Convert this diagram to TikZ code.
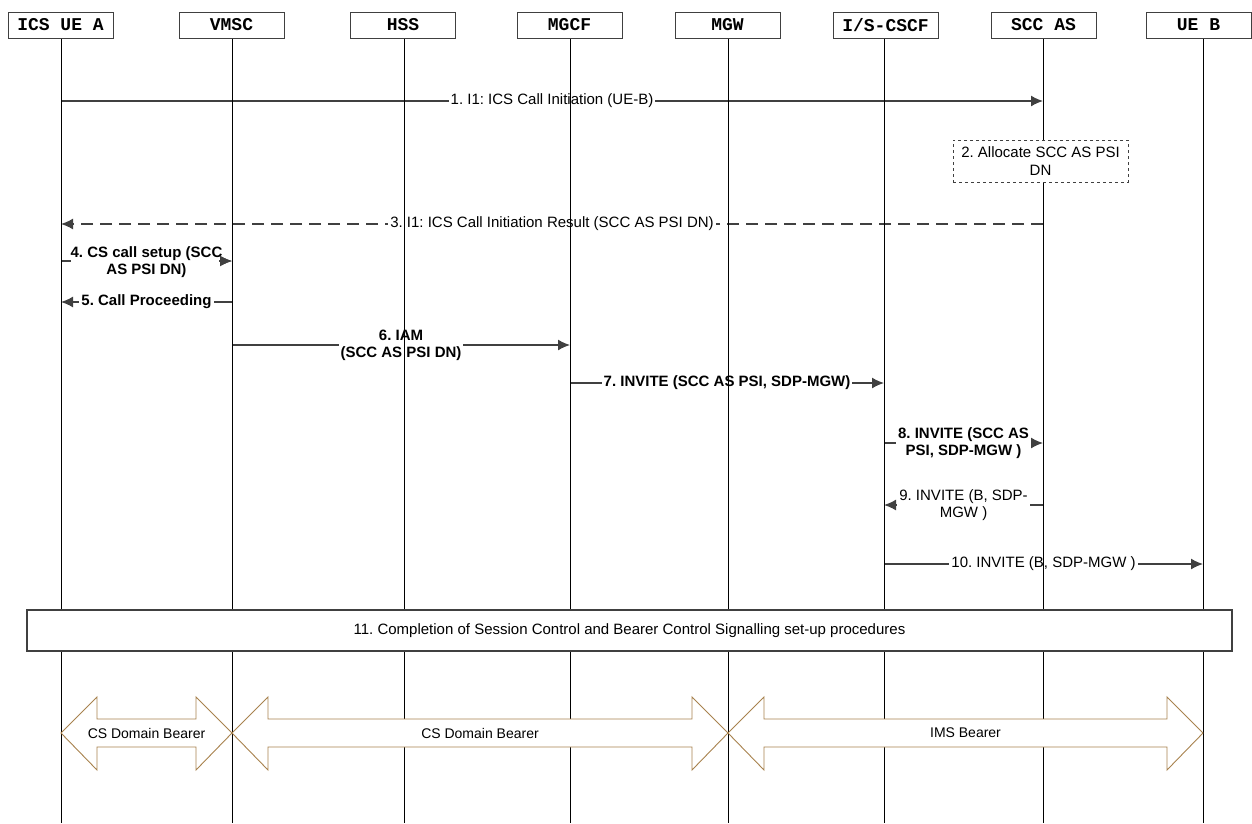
\documentclass[tikz,border=0pt]{standalone}
\usepackage{fontspec}
\setmainfont{Liberation Sans}
\setmonofont{Liberation Mono}
\usetikzlibrary{arrows.meta,calc}
\definecolor{msggray}{HTML}{404040}
\definecolor{bearerbrown}{HTML}{A8824E}

\begin{document}
\frenchspacing
\begin{tikzpicture}[x=1pt,y=-1pt,
  entity/.style={draw=msggray,fill=white,minimum width=105pt,minimum height=26pt,
    inner sep=0pt,font=\ttfamily\bfseries\fontsize{18}{18}\selectfont},
  msg/.style={-{Latex[length=12pt,width=11pt]},draw=msggray,line width=1.4pt},
  lbl/.style={fill=white,inner sep=2pt,align=center,font=\fontsize{15}{17}\selectfont},
  lblb/.style={lbl,font=\bfseries\fontsize{15}{17}\selectfont},
  bearer/.style={draw=bearerbrown,fill=white,line width=0.9pt}]
  \useasboundingbox (0,0) rectangle (1252,823);
  % message rows
  \foreach \r/\y in {1/101,3/224,4/261,5/302,6/345,7/383,8/443,9/505,10/564,b/733,end/823}
    \coordinate (r\r) at (0,\y);
  % lifeline heads
  \foreach \name/\x in {uea/61,vmsc/232,hss/404,mgcf/570,mgw/728,cscf/884,scc/1043,ueb/1203}
    \coordinate (\name) at (\x,38);

  \draw[msg] (uea |- r1) -- (scc |- r1)
    node[lbl,midway] {1. I1: ICS Call Initiation (UE-B)};
  \draw[msg,dash pattern=on 12pt off 7pt] (scc |- r3) -- (uea |- r3)
    node[lbl,midway] {3. I1: ICS Call Initiation Result (SCC AS PSI DN)};
  \draw[msg] (uea |- r4) -- (vmsc |- r4)
    node[lblb,midway,inner sep=0pt,yshift=-1pt] {4. CS call setup (SCC\\AS PSI DN)};
  \draw[msg] ([xshift=-13pt]vmsc |- r4) -- (vmsc |- r4);
  \draw[msg] (vmsc |- r5) -- (uea |- r5)
    node[lblb,midway] {5. Call Proceeding};
  \draw[msg] (vmsc |- r6) -- (mgcf |- r6)
    node[lblb,midway] {6. IAM\\(SCC AS PSI DN)};
  \draw[msg] (mgcf |- r7) -- (cscf |- r7)
    node[lblb,midway] {7. INVITE (SCC AS PSI, SDP-MGW)};
  \draw[msg] (cscf |- r8) -- (scc |- r8)
    node[lblb,midway] {8. INVITE (SCC AS\\PSI, SDP-MGW )};
  \draw[msg] (scc |- r9) -- (cscf |- r9)
    node[lbl,midway] {9. INVITE (B, SDP-\\MGW )};
  \draw[msg] (cscf |- r10) -- (ueb |- r10)
    node[lbl,midway] {10. INVITE (B, SDP-MGW )};

  % lifelines
  \foreach \name in {uea,vmsc,hss,mgcf,mgw,cscf,scc,ueb}
    \draw[line width=0.8pt] (\name) -- (\name |- rend);

  \node[draw=msggray,dashed,fill=white,minimum width=175pt,minimum height=42pt,
    align=center,font=\fontsize{15}{18}\selectfont] (alloc) at (1040.5,161)
    {2. Allocate SCC AS PSI\\DN};
  \node[draw=msggray,line width=1.2pt,fill=white,minimum width=1205pt,minimum height=41pt,
    font=\fontsize{15}{18}\selectfont] (complete) at (629.5,630.5)
    {11. Completion of Session Control and Bearer Control Signalling set-up procedures};

  % bearers
  \foreach \from/\to/\txt in {uea/vmsc/CS Domain Bearer,vmsc/mgw/CS Domain Bearer,mgw/ueb/IMS Bearer}{
    \path (\from |- rb) coordinate (bl) (\to |- rb) coordinate (br);
    \draw[bearer] (bl) -- ([shift={(36,-36)}]bl) -- ([shift={(36,-14)}]bl)
      -- ([shift={(-36,-14)}]br) -- ([shift={(-36,-36)}]br) -- (br)
      -- ([shift={(-36,37)}]br) -- ([shift={(-36,14)}]br)
      -- ([shift={(36,14)}]bl) -- ([shift={(36,37)}]bl) -- cycle;
    \node[font=\fontsize{14}{16}\selectfont] at ($(bl)!0.5!(br)$) {\txt};
  }

  % entities
  \foreach \name/\x/\txt in {uea/60.5/ICS UE A,vmsc/231.5/VMSC,hss/403/HSS,mgcf/569.5/MGCF,
      mgw/727.5/MGW,cscf/885.5/{I/S-CSCF},scc/1043.5/SCC AS,ueb/1198.5/UE B}
    \node[entity] (box-\name) at (\x,25) {\txt};
\end{tikzpicture}
\end{document}
